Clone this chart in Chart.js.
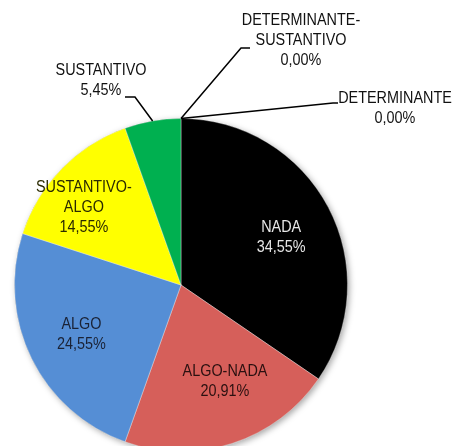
<!DOCTYPE html>
<html>
<head>
<meta charset="utf-8">
<script src="https://cdn.jsdelivr.net/npm/chart.js@4.4.1/dist/chart.umd.min.js"></script>
<style>
  html, body { margin: 0; padding: 0; background: #fff; overflow: hidden; }
  #wrap { width: 454px; height: 446px; overflow: hidden; }
</style>
</head>
<body>
<div id="wrap"><canvas id="grafica" width="454" height="460"></canvas></div>
<script>
// DATOS
const categorias = ["NADA", "ALGO-NADA", "ALGO", "SUSTANTIVO-ALGO", "SUSTANTIVO", "DETERMINANTE-SUSTANTIVO", "DETERMINANTE"];
const porcentajes = [34.55, 20.91, 24.55, 14.55, 5.45, 0.00, 0.00];
const colores = ["#000000", "#D65F5A", "#558ED5", "#FFFF00", "#00B050", "#7F7F7F", "#7F7F7F"];
const coloresTexto = ["#E6E6E6", "#2A1010", "#1A2235", "#2A2A00", "#000000", "#000000", "#000000"];

// etiquetas de afuera (texto y lineas guia)
const fuera = {
  4: { x: 101, y: 71, codo: [135, 97], fin: [125, 97] },
  5: { x: 301, y: 21, codo: [241, 48], fin: [250, 48] },
  6: { x: 395, y: 99, codo: [333, 103], fin: [338, 103] }
};
// pequeños ajustes de las etiquetas de adentro (como las acomoda excel)
const ajustes = { 0: [0, 5], 1: [9, -11], 2: [2, 0], 3: [-16, 2] };

const partir = (txt) => {
  if (txt.length > 12 && txt.indexOf("-") > 0) {
    const i = txt.indexOf("-");
    return [txt.slice(0, i + 1), txt.slice(i + 1)];
  }
  return [txt];
};
const formato = (v) => v.toFixed(2).replace(".", ",") + "%";

function texto(ctx, str, x, y, color) {
  ctx.save();
  ctx.translate(x, y);
  ctx.scale(0.9, 1);
  ctx.fillStyle = color;
  ctx.fillText(str, 0, 0);
  ctx.restore();
}

// sombra suave abajo del pastel
const sombra = {
  id: "sombra",
  beforeDatasetsDraw(chart) {
    const arc = chart.getDatasetMeta(0).data[0];
    if (!arc) return;
    const p = arc.getProps(["x", "y", "outerRadius"], true);
    const ctx = chart.ctx;
    ctx.save();
    ctx.shadowColor = "rgba(0,0,0,0.35)";
    ctx.shadowBlur = 6;
    ctx.shadowOffsetX = 2;
    ctx.shadowOffsetY = 2;
    ctx.beginPath();
    ctx.arc(p.x, p.y, p.outerRadius, 0, Math.PI * 2);
    ctx.fillStyle = "#888";
    ctx.fill();
    ctx.restore();
  }
};

const etiquetas = {
  id: "etiquetas",
  afterDatasetsDraw(chart) {
    const ctx = chart.ctx;
    const meta = chart.getDatasetMeta(0);
    ctx.save();
    ctx.font = "16px 'Liberation Sans', Arial, sans-serif";
    ctx.textAlign = "center";
    ctx.textBaseline = "middle";
    meta.data.forEach((arc, i) => {
      const p = arc.getProps(["x", "y", "startAngle", "endAngle", "outerRadius"], true);
      const mid = (p.startAngle + p.endAngle) / 2;
      const lineas = partir(categorias[i]).concat([formato(porcentajes[i])]);
      if (fuera[i]) {
        const f = fuera[i];
        const ex = p.x + Math.cos(mid) * p.outerRadius;
        const ey = p.y + Math.sin(mid) * p.outerRadius;
        ctx.beginPath();
        ctx.moveTo(ex, ey);
        ctx.lineTo(f.codo[0], f.codo[1]);
        ctx.lineTo(f.fin[0], f.fin[1]);
        ctx.strokeStyle = "#000";
        ctx.lineWidth = 1.5;
        ctx.stroke();
        lineas.forEach((l, k) => texto(ctx, l, f.x, f.y + k * 20, "#111"));
      } else {
        const r = p.outerRadius * 0.68;
        const aj = ajustes[i] || [0, 0];
        const cx = p.x + Math.cos(mid) * r + aj[0];
        const cy = p.y + Math.sin(mid) * r + aj[1];
        const y0 = cy - (lineas.length - 1) * 10;
        lineas.forEach((l, k) => texto(ctx, l, cx, y0 + k * 20, coloresTexto[i]));
      }
    });
    ctx.restore();
  }
};

new Chart(document.getElementById("grafica"), {
  type: "pie",
  data: {
    labels: categorias,
    datasets: [{
      data: porcentajes,
      backgroundColor: colores,
      borderColor: "rgba(255,255,255,0.35)",
      borderWidth: 1
    }]
  },
  options: {
    responsive: false,
    animation: false,
    devicePixelRatio: 1,
    layout: { padding: { left: 14, right: 106, top: 118, bottom: 8 } },
    plugins: { legend: { display: false }, tooltip: { enabled: false } }
  },
  plugins: [sombra, etiquetas]
});
</script>
</body>
</html>
